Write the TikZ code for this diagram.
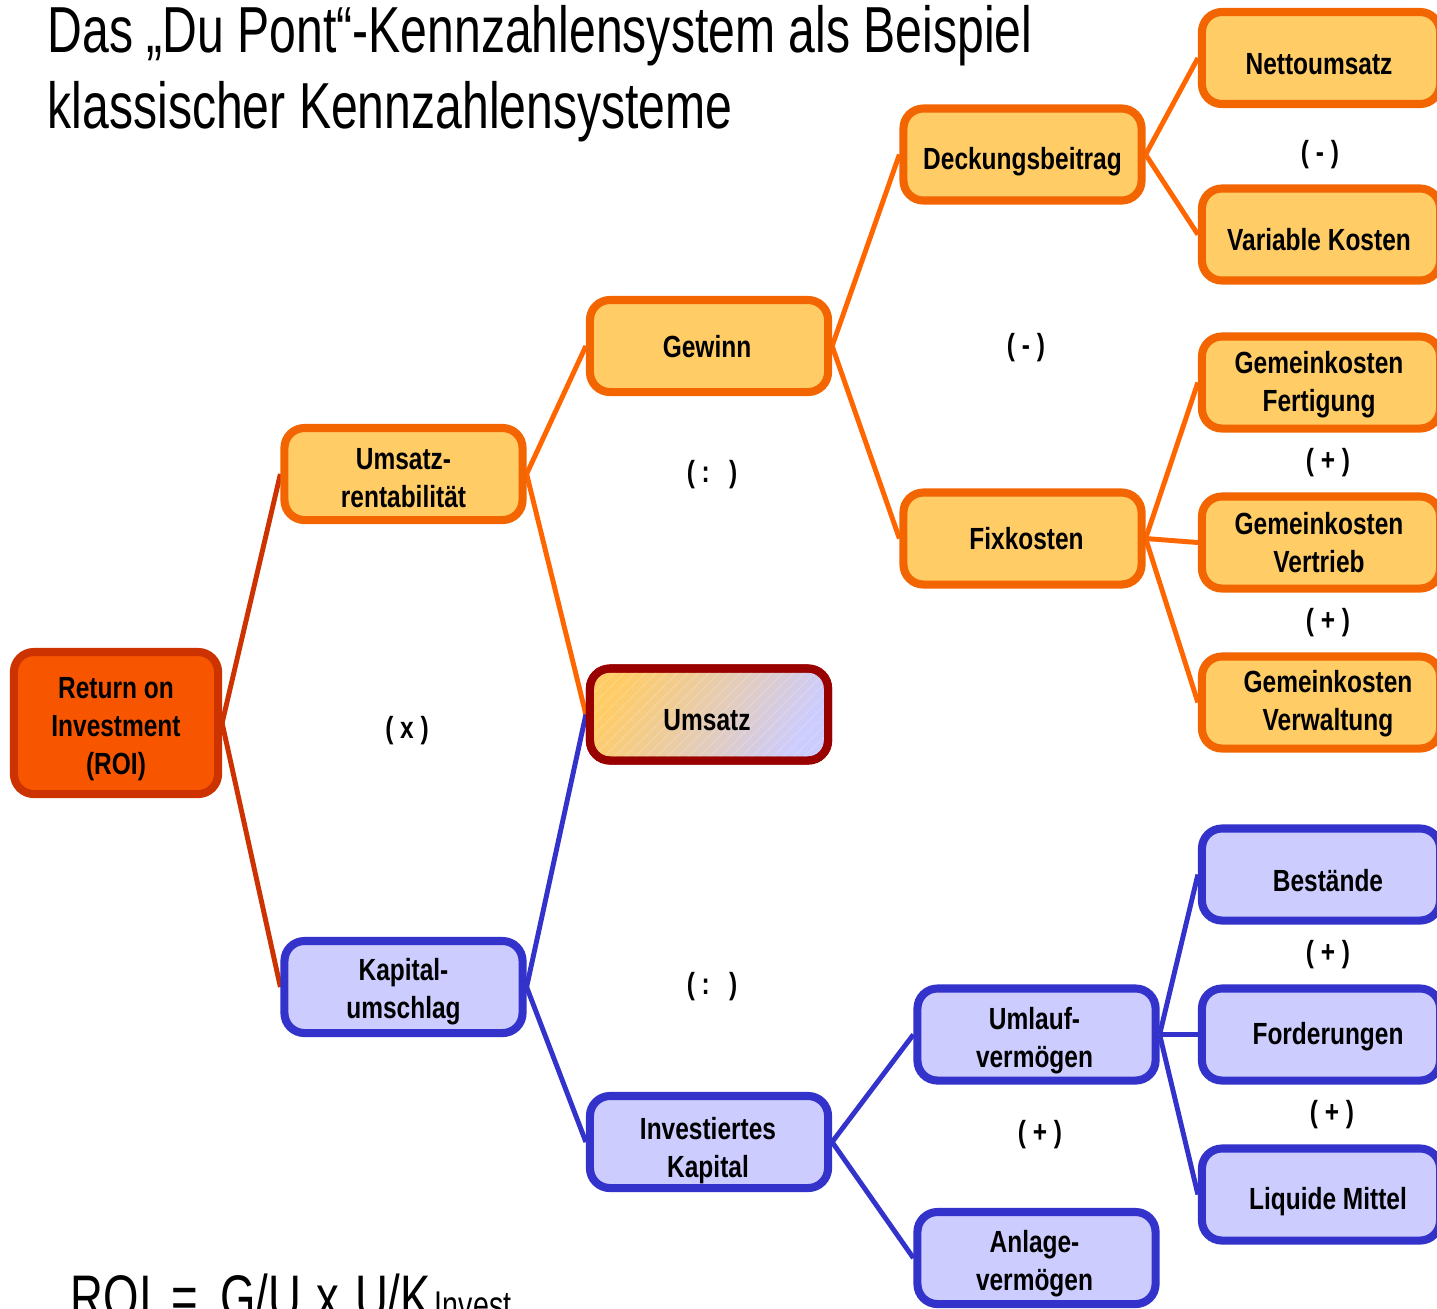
\documentclass[tikz,border=0pt]{standalone}
\usepackage{fontspec}
\setmainfont{Liberation Sans}[FakeStretch=0.8]
\newfontfamily\titlefont{Liberation Sans}[FakeStretch=0.74]
\usetikzlibrary{backgrounds,patterns}

\definecolor{orfill}{HTML}{FFCC66}
\definecolor{ordraw}{HTML}{F26500}
\definecolor{orline}{HTML}{FF6600}
\definecolor{roifill}{HTML}{F85500}
\definecolor{roidraw}{HTML}{CC3300}
\definecolor{bfill}{HTML}{CCCCFF}
\definecolor{bdraw}{HTML}{3333CC}
\definecolor{udraw}{HTML}{990000}

\tikzset{
  box/.style={rounded corners=0.2cm, line width=2.3pt, minimum width=2.38cm,
    minimum height=0.92cm, inner sep=0pt},
  obox/.style={box, draw=ordraw, fill=orfill},
  bbox/.style={box, draw=bdraw, fill=bfill},
  rbox/.style={box, draw=roidraw, fill=roifill, minimum width=2.04cm, minimum height=1.42cm},
  ubox/.style={box, draw=udraw, top color=orfill, bottom color=bfill, shading angle=60,
    postaction={pattern=north east lines, pattern color=white, opacity=0.15},
    postaction={draw=udraw, line width=2.3pt}},
  txt/.style={align=center, inner sep=0pt, font=\bfseries\fontsize{8.7}{10.8}\selectfont},
  op/.style={font=\bfseries\fontsize{8.7}{10.8}\selectfont, inner sep=0pt},
  rl/.style={draw=roidraw, line width=1.4pt},
  ol/.style={draw=orline, line width=1.4pt},
  bl/.style={draw=bdraw, line width=1.4pt},
  bigtext/.style={font=\titlefont\fontsize{18.5}{22}\selectfont, inner sep=0pt, anchor=base west}
}

\begin{document}
\begin{tikzpicture}[x=0.01cm, y=-0.01cm]
\useasboundingbox (0,0) rectangle (1437,1308);
\clip (0,0) rectangle (1437,1308);

% heading
\node[bigtext] (t1) at (47,52) {Das „Du Pont“-Kennzahlensystem als Beispiel};
\node[bigtext] (t2) at (47,128) {klassischer Kennzahlensysteme};

% boxes
\node[rbox] (roi) at (116,723) {};
\node[obox] (urent) at (403.5,474) {};
\node[bbox] (kumsch) at (403.5,987) {};
\node[obox] (gewinn) at (709,346) {};
\node[ubox] (umsatz) at (709,714.5) {};
\node[bbox] (invkap) at (709,1142) {};
\node[obox] (deckung) at (1022.5,154.5) {};
\node[obox] (fix) at (1022.5,538.5) {};
\node[bbox] (umlauf) at (1036.5,1034.5) {};
\node[bbox] (anlage) at (1036.5,1258) {};
\node[obox] (netto) at (1321,58) {};
\node[obox] (varko) at (1321,234.5) {};
\node[obox] (gkfert) at (1321,382.5) {};
\node[obox] (gkvert) at (1321,542.5) {};
\node[obox] (gkverw) at (1321,702.5) {};
\node[bbox] (best) at (1321,874.5) {};
\node[bbox] (ford) at (1321,1034.5) {};
\node[bbox] (liq) at (1321,1194.5) {};

% box labels
\node[txt] (roi-t) at ([shift={(0,6)}]roi.center) {Return on\\Investment\\(ROI)};
\node[txt] (urent-t) at ([shift={(0,4.5)}]urent.center) {Umsatz-\\rentabilität};
\node[txt] (kumsch-t) at ([shift={(0,5)}]kumsch.center) {Kapital-\\umschlag};
\node[txt] (gewinn-t) at ([shift={(-2,1)}]gewinn.center) {Gewinn};
\node[txt] (umsatz-t) at ([shift={(-2,6)}]umsatz.center) {Umsatz};
\node[txt] (invkap-t) at ([shift={(-1,9)}]invkap.center) {Investiertes\\Kapital};
\node[txt] (deckung-t) at ([shift={(0,7)}]deckung.center) {Deckungsbeitrag};
\node[txt] (fix-t) at ([shift={(4,0)}]fix.center) {Fixkosten};
\node[txt] (umlauf-t) at ([shift={(-2,6)}]umlauf.center) {Umlauf-\\vermögen};
\node[txt] (anlage-t) at ([shift={(-2,6)}]anlage.center) {Anlage-\\vermögen};
\node[txt] (netto-t) at ([shift={(-2,6)}]netto.center) {Nettoumsatz};
\node[txt] (varko-t) at ([shift={(-2,5)}]varko.center) {Variable Kosten};
\node[txt] (gkfert-t) at ([shift={(-2,2)}]gkfert.center) {Gemeinkosten\\Fertigung};
\node[txt] (gkvert-t) at ([shift={(-2,0)}]gkvert.center) {Gemeinkosten\\Vertrieb};
\node[txt] (gkverw-t) at ([shift={(7,1)}]gkverw.center) {Gemeinkosten\\Verwaltung};
\node[txt] (best-t) at ([shift={(7,6)}]best.center) {Bestände};
\node[txt] (ford-t) at ([shift={(7,2)}]ford.center) {Forderungen};
\node[txt] (liq-t) at ([shift={(7,7)}]liq.center) {Liquide Mittel};

% connectors
\begin{scope}[on background layer]
\draw[rl] (roi.east) -- (urent.west);
\draw[rl] (roi.east) -- (kumsch.west);
\draw[ol] (urent.east) -- (gewinn.west);
\draw[ol] (urent.east) -- (umsatz.west);
\draw[bl] (kumsch.east) -- (umsatz.west);
\draw[bl] (kumsch.east) -- (invkap.west);
\draw[ol] (gewinn.east) -- (deckung.west);
\draw[ol] (gewinn.east) -- (fix.west);
\draw[ol] (deckung.east) -- (netto.west);
\draw[ol] (deckung.east) -- (varko.west);
\draw[ol] (fix.east) -- (gkfert.west);
\draw[ol] (fix.east) -- (gkvert.west);
\draw[ol] (fix.east) -- (gkverw.west);
\draw[bl] (invkap.east) -- (umlauf.west);
\draw[bl] (invkap.east) -- (anlage.west);
\draw[bl] (umlauf.east) -- (best.west);
\draw[bl] (umlauf.east) -- (ford.west);
\draw[bl] (umlauf.east) -- (liq.west);
\end{scope}

% operators
\node[op] (o1) at (1320,155) {( - )};
\node[op] (o2) at (1026,348) {( - )};
\node[op] (o3) at (712,475) {( :\,\, )};
\node[op] (o4) at (407,731) {( x )};
\node[op] (o5) at (712,987) {( :\,\, )};
\node[op] (o6) at (1040,1135) {( + )};
\node[op] (o7) at (1328,463) {( + )};
\node[op] (o8) at (1328,623) {( + )};
\node[op] (o9) at (1328,955) {( + )};
\node[op] (o10) at (1332,1115) {( + )};

% formula
\node[bigtext, font=\titlefont\fontsize{17.5}{21}\selectfont] (formel) at (70,1318)
  {ROI\hspace{0.2cm}=\hspace{0.22cm}G/U\hspace{0.15cm}x\hspace{0.16cm}U/K\hspace{0.04cm}{\fontsize{11}{13}\selectfont Invest}};
\end{tikzpicture}
\end{document}
